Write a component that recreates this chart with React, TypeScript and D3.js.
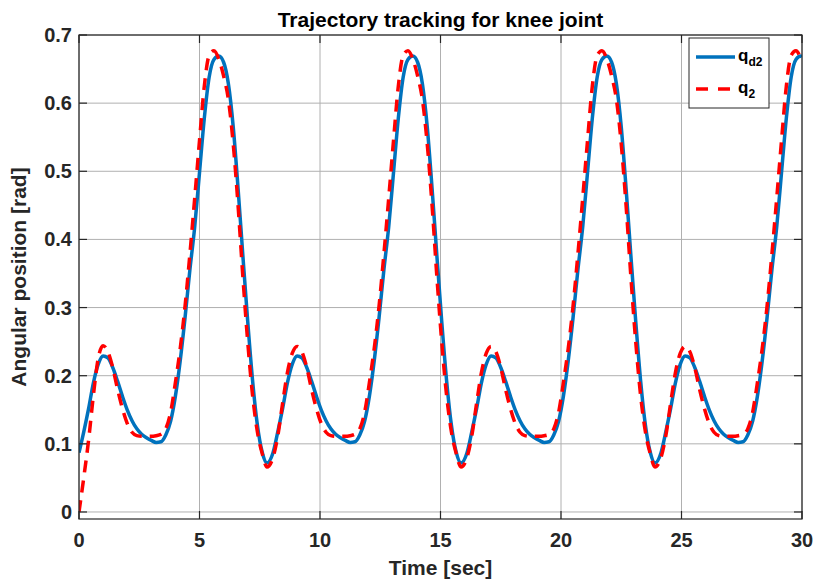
import React from "react";
import * as d3 from "d3";

// Time samples [sec]
const time: number[] = [
  0, 0.2, 0.4, 0.6, 0.8, 1.0, 1.2, 1.4, 1.6, 1.8, 2.0, 2.2, 2.4, 2.6, 2.8, 3.0, 3.2, 3.4, 3.6, 3.8,
  4.0, 4.2, 4.4, 4.6, 4.8, 5.0, 5.2, 5.4, 5.6, 5.8, 6.0, 6.2, 6.4, 6.6, 6.8, 7.0, 7.2, 7.4, 7.6, 7.8,
  8.05, 8.25, 8.45, 8.65, 8.85, 9.05, 9.25, 9.45, 9.65, 9.85, 10.05, 10.25, 10.45, 10.65, 10.85, 11.05, 11.25, 11.45, 11.65, 11.85,
  12.05, 12.25, 12.45, 12.65, 12.85, 13.05, 13.25, 13.45, 13.65, 13.85, 14.05, 14.25, 14.45, 14.65, 14.85, 15.05, 15.25, 15.45, 15.65, 15.85,
  16.1, 16.3, 16.5, 16.7, 16.9, 17.1, 17.3, 17.5, 17.7, 17.9, 18.1, 18.3, 18.5, 18.7, 18.9, 19.1, 19.3, 19.5, 19.7, 19.9,
  20.1, 20.3, 20.5, 20.7, 20.9, 21.1, 21.3, 21.5, 21.7, 21.9, 22.1, 22.3, 22.5, 22.7, 22.9, 23.1, 23.3, 23.5, 23.7, 23.9,
  24.15, 24.35, 24.55, 24.75, 24.95, 25.15, 25.35, 25.55, 25.75, 25.95, 26.15, 26.35, 26.55, 26.75, 26.95, 27.15, 27.35, 27.55, 27.75, 27.95,
  28.15, 28.35, 28.55, 28.75, 28.95, 29.15, 29.35, 29.55, 29.75, 29.95, 30,
];

// Desired knee trajectory q_d2 [rad]
const qd2: number[] = [
  0.087, 0.118, 0.152, 0.19, 0.217, 0.229, 0.226, 0.212, 0.192, 0.17, 0.15, 0.134, 0.122, 0.114, 0.109, 0.105, 0.102, 0.103, 0.113, 0.133,
  0.17, 0.222, 0.285, 0.355, 0.418, 0.498, 0.578, 0.638, 0.664, 0.669, 0.66, 0.628, 0.565, 0.475, 0.376, 0.28, 0.194, 0.128, 0.088, 0.072,
  0.087, 0.118, 0.152, 0.19, 0.217, 0.229, 0.226, 0.212, 0.192, 0.17, 0.15, 0.134, 0.122, 0.114, 0.109, 0.105, 0.102, 0.103, 0.113, 0.133,
  0.17, 0.222, 0.285, 0.355, 0.418, 0.498, 0.578, 0.638, 0.664, 0.669, 0.66, 0.628, 0.565, 0.475, 0.376, 0.28, 0.194, 0.128, 0.088, 0.072,
  0.087, 0.118, 0.152, 0.19, 0.217, 0.229, 0.226, 0.212, 0.192, 0.17, 0.15, 0.134, 0.122, 0.114, 0.109, 0.105, 0.102, 0.103, 0.113, 0.133,
  0.17, 0.222, 0.285, 0.355, 0.418, 0.498, 0.578, 0.638, 0.664, 0.669, 0.66, 0.628, 0.565, 0.475, 0.376, 0.28, 0.194, 0.128, 0.088, 0.072,
  0.087, 0.118, 0.152, 0.19, 0.217, 0.229, 0.226, 0.212, 0.192, 0.17, 0.15, 0.134, 0.122, 0.114, 0.109, 0.105, 0.102, 0.103, 0.113, 0.133,
  0.17, 0.222, 0.285, 0.355, 0.418, 0.498, 0.578, 0.638, 0.664, 0.669, 0.668,
];

// Actual knee trajectory q_2 [rad]
const q2: number[] = [
  0.0, 0.051, 0.106, 0.172, 0.226, 0.244, 0.235, 0.212, 0.18, 0.152, 0.13, 0.117, 0.112, 0.111, 0.111, 0.111, 0.112, 0.114, 0.122, 0.146,
  0.19, 0.24, 0.302, 0.378, 0.46, 0.545, 0.625, 0.67, 0.677, 0.665, 0.64, 0.605, 0.54, 0.45, 0.345, 0.25, 0.172, 0.118, 0.086, 0.066,
  0.08, 0.112, 0.16, 0.205, 0.233, 0.243, 0.235, 0.212, 0.18, 0.152, 0.13, 0.117, 0.112, 0.111, 0.111, 0.111, 0.112, 0.114, 0.122, 0.146,
  0.19, 0.24, 0.302, 0.378, 0.46, 0.545, 0.625, 0.67, 0.677, 0.665, 0.64, 0.605, 0.54, 0.45, 0.345, 0.25, 0.172, 0.118, 0.086, 0.066,
  0.08, 0.112, 0.16, 0.205, 0.233, 0.243, 0.235, 0.212, 0.18, 0.152, 0.13, 0.117, 0.112, 0.111, 0.111, 0.111, 0.112, 0.114, 0.122, 0.146,
  0.19, 0.24, 0.302, 0.378, 0.46, 0.545, 0.625, 0.67, 0.677, 0.665, 0.64, 0.605, 0.54, 0.45, 0.345, 0.25, 0.172, 0.118, 0.086, 0.066,
  0.08, 0.112, 0.16, 0.205, 0.233, 0.243, 0.235, 0.212, 0.18, 0.152, 0.13, 0.117, 0.112, 0.111, 0.111, 0.111, 0.112, 0.114, 0.122, 0.146,
  0.19, 0.24, 0.302, 0.378, 0.46, 0.545, 0.625, 0.67, 0.677, 0.665, 0.66,
];

const xTicks: number[] = [0, 5, 10, 15, 20, 25, 30];
const yTicks: number[] = [0, 0.1, 0.2, 0.3, 0.4, 0.5, 0.6, 0.7];

const titleText = "Trajectory tracking for knee joint";
const xLabel = "Time [sec]";
const yLabel = "Angular position [rad]";

const W = 816;
const H = 583;
const left = 79;
const right = 802;
const top = 35;
const bottom = 519;

const FONT = "'Liberation Sans', Arial, Helvetica, sans-serif";
const AX = "#262626";

export default function App() {
  const x = d3.scaleLinear().domain([0, 30]).range([left, right]);
  const y = d3.scaleLinear().domain([-0.0103, 0.7]).range([bottom, top]);

  const line = (vals: number[]) =>
    d3
      .line<number>()
      .x((_, i) => x(time[i]))
      .y((v) => y(v))
      .curve(d3.curveMonotoneX)(vals) || "";

  const tickLen = 8;
  const lx = 689;
  const ly = 38;

  return (
    <svg
      width={W}
      height={H}
      style={{ position: "absolute", left: 0, top: 0, background: "#fff" }}
      fontFamily={FONT}
    >
      <rect x={0} y={0} width={W} height={H} fill="#fff" />
      <defs>
        <clipPath id="plotclip">
          <rect x={left} y={top} width={right - left} height={bottom - top} />
        </clipPath>
      </defs>
      {/* grid */}
      {xTicks.map((t) => (
        <line key={"gx" + t} x1={x(t)} x2={x(t)} y1={top} y2={bottom} stroke="#b0b0b0" strokeWidth={1} />
      ))}
      {yTicks.map((t) => (
        <line key={"gy" + t} x1={left} x2={right} y1={y(t)} y2={y(t)} stroke="#b0b0b0" strokeWidth={1} />
      ))}
      {/* data */}
      <g clipPath="url(#plotclip)">
        <path d={line(qd2)} fill="none" stroke="#0072BD" strokeWidth={3.5} strokeLinejoin="round" />
        <path d={line(q2)} fill="none" stroke="#FF0000" strokeWidth={3.5} strokeDasharray="12,8" />
      </g>
      {/* axes box */}
      <rect x={left} y={top} width={right - left} height={bottom - top} fill="none" stroke={AX} strokeWidth={1.2} />
      {xTicks.map((t) => (
        <g key={"tx" + t}>
          <line x1={x(t)} x2={x(t)} y1={bottom} y2={bottom - tickLen} stroke={AX} strokeWidth={1.2} />
          <line x1={x(t)} x2={x(t)} y1={top} y2={top + tickLen} stroke={AX} strokeWidth={1.2} />
          <text x={x(t)} y={bottom + 28} textAnchor="middle" fontSize={20} fontWeight="bold" fill={AX}>
            {t}
          </text>
        </g>
      ))}
      {yTicks.map((t) => (
        <g key={"ty" + t}>
          <line x1={left} x2={left + tickLen} y1={y(t)} y2={y(t)} stroke={AX} strokeWidth={1.2} />
          <line x1={right} x2={right - tickLen} y1={y(t)} y2={y(t)} stroke={AX} strokeWidth={1.2} />
          <text x={left - 7} y={y(t) + 7} textAnchor="end" fontSize={20} fontWeight="bold" fill={AX}>
            {t === 0 ? "0" : d3.format(".1f")(t)}
          </text>
        </g>
      ))}
      {/* title and labels */}
      <text x={(left + right) / 2} y={27} textAnchor="middle" fontSize={21} fontWeight="bold" fill="#000">
        {titleText}
      </text>
      <text x={(left + right) / 2} y={575} textAnchor="middle" fontSize={21} fontWeight="bold" fill={AX}>
        {xLabel}
      </text>
      <text
        transform={`translate(26,${(top + bottom) / 2}) rotate(-90)`}
        textAnchor="middle"
        fontSize={21}
        fontWeight="bold"
        fill={AX}
      >
        {yLabel}
      </text>
      {/* legend */}
      <rect x={lx} y={ly} width={80} height={70} fill="#fff" stroke={AX} strokeWidth={1} />
      <line x1={lx + 7} x2={lx + 46} y1={ly + 19} y2={ly + 19} stroke="#0072BD" strokeWidth={3.5} />
      <line x1={lx + 7} x2={lx + 46} y1={ly + 51} y2={ly + 51} stroke="#FF0000" strokeWidth={3.5} strokeDasharray="12,10" />
      <text x={lx + 49} y={ly + 23} fontSize={17} fontWeight="bold" fill="#000">
        q<tspan fontSize={12} dy={5}>d2</tspan>
      </text>
      <text x={lx + 49} y={ly + 55} fontSize={17} fontWeight="bold" fill="#000">
        q<tspan fontSize={12} dy={5}>2</tspan>
      </text>
    </svg>
  );
}
